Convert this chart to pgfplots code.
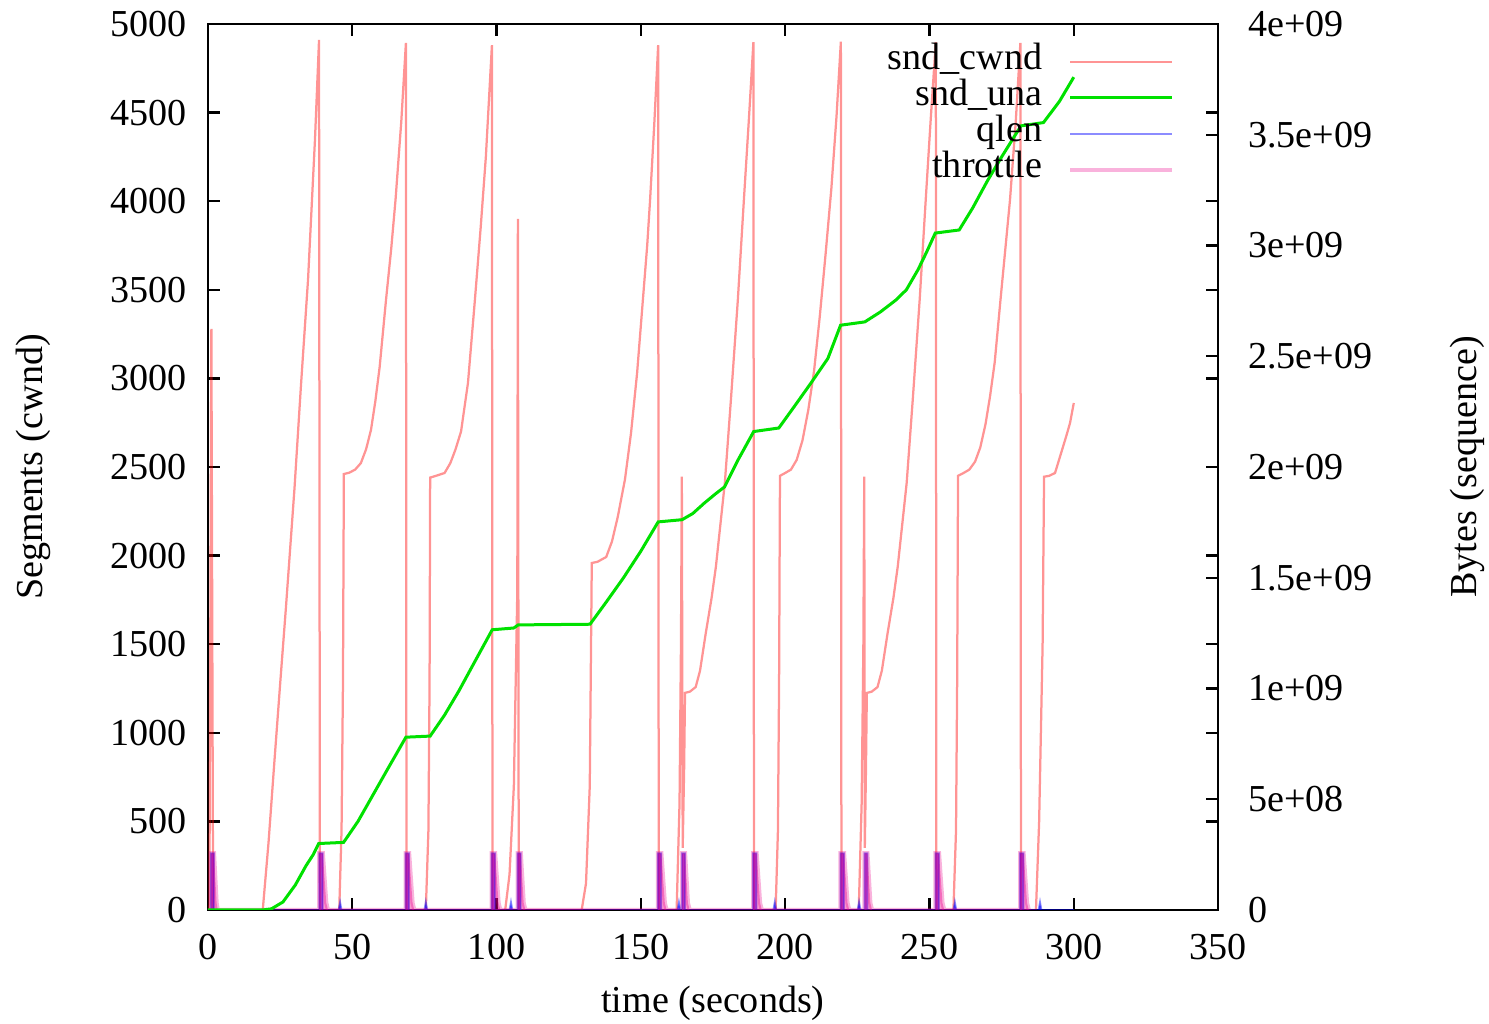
\documentclass[border=0pt]{standalone}
\usepackage{fontspec}
\setmainfont{Liberation Serif}
\usepackage{pgfplots}
\pgfplotsset{compat=1.18}

\definecolor{unagreen}{RGB}{0,225,0}

\pgfplotsset{
  cwnd/.style={red, draw opacity=0.42, line width=0.75pt},
  una/.style={unagreen, line width=1pt},
  qlenst/.style={blue, draw opacity=0.45, line width=0.6pt},
  throttlest/.style={magenta, draw opacity=0.3, line width=1.4pt},
  common/.style={
    scale only axis, width=336.7pt, height=295.3pt,
    xmin=0, xmax=350,
    /pgf/number format/assume math mode=true,
    /pgf/number format/1000 sep={},
    tick align=inside, major tick length=4pt,
    tick style={black, line width=0.8pt},
    axis line style={line width=0.9pt},
  },
}

\begin{document}
\begin{tikzpicture}[font=\fontsize{12.7pt}{14.5pt}\selectfont]
\begin{axis}[common, name=ax,
  ymin=0, ymax=5000,
  xtick={0,50,...,350}, ytick={0,500,...,5000},
  scaled ticks=false,
  yticklabel pos=left,
  xticklabel style={yshift=-4.5pt},
  yticklabel style={xshift=-3.5pt},
  xlabel={time (seconds)},
  ylabel={Segments (cwnd)},
  xlabel style={at={(axis description cs:0.5,-0.105)}, anchor=center},
  ylabel style={at={(axis description cs:-0.173,0.5)}, anchor=center},
]
% snd_cwnd
\addplot[cwnd] coordinates {
 (0,0) (0.5,0) (1.2,3280) (1.8,0) (19,0) (21,380) (23,830) (25,1270) (27,1700)
 (30,2380) (32.2,2950) (34.7,3560) (37.1,4350) (38.5,4910) (38.8,0)
 (45.5,0) (46.3,450) (46.8,1300) (47.1,2460) (49,2468) (51,2485) (53,2522)
 (54.8,2600) (56.5,2709) (58,2870) (59.5,3064) (61.7,3442) (63.5,3730)
 (65,4007) (67,4450) (68.6,4893) (68.8,0)
 (75.5,0) (76.4,450) (76.8,1300) (77.0,2440) (79,2450) (82,2466) (84,2522)
 (85.8,2600) (87.7,2700) (90.1,2974) (92.5,3442) (94.5,3850) (96.3,4250)
 (98.4,4880) (98.6,0)
 (103,0) (104.5,200) (106,700) (107.2,1800) (107.4,3900) (107.7,0)
 (129.5,0) (131,150) (132.3,700) (133,1958) (135,1965) (138,1992) (140,2080)
 (142,2218) (144.5,2430) (146.6,2692) (148.7,3030) (150.7,3442) (152.2,3750)
 (153.2,4007) (154.7,4450) (156,4880) (156.2,0)
 (162.4,0) (163.4,600) (163.9,1500) (164.2,2445) (164.5,350) (165.0,800)
 (165.3,1225) (167,1232) (169,1258) (170.5,1350) (172.5,1563) (174.5,1760)
 (176,1937) (179.1,2410) (181.2,2878) (183.6,3442) (185.7,4007) (187.5,4480)
 (189,4898) (189.2,0)
 (196.7,0) (197.5,450) (197.9,1300) (198.2,2450) (200,2466) (202,2485)
 (204,2540) (206,2650) (208,2820) (210,3040) (212,3350) (214,3700)
 (216,4070) (217.8,4480) (219.3,4900) (219.5,0)
 (225.5,0) (226.5,600) (227.1,1500) (227.4,2445) (227.6,350) (228.0,800)
 (228.3,1225) (230,1232) (232,1258) (233.5,1350) (235.5,1563) (237.5,1760)
 (239,1937) (242.1,2410) (244.2,2878) (246.6,3442) (248.7,4007) (250.5,4480)
 (252.2,4898) (252.4,0)
 (258.3,0) (259.2,450) (259.6,1300) (259.9,2450) (261.8,2466) (263.8,2485)
 (265.8,2530) (267.6,2610) (269.4,2740) (271,2900) (272.6,3090) (274.6,3442)
 (276.4,3750) (277.9,4007) (279.9,4450) (281.5,4893) (281.7,0)
 (286.9,0) (288,500) (289.2,1500) (289.7,2445) (291.5,2450) (293.5,2466)
 (295.6,2578) (297.5,2680) (298.7,2748) (300,2861)
};
% qlen
\addplot[qlenst, fill=blue, fill opacity=0.55] coordinates {
 (0,0) (1.0,0) (1.0,320) (2.1,320) (2.1,0)
 (38.6,0) (38.6,320) (39.8,320) (39.8,0)
 (45.3,0) (45.8,45) (46.3,0)
 (68.5,0) (68.5,320) (69.7,320) (69.7,0)
 (75.0,0) (75.5,45) (76.0,0)
 (98.3,0) (98.3,320) (99.5,320) (99.5,0)
 (104.5,0) (105,45) (105.5,0)
 (107.3,0) (107.3,320) (108.4,320) (108.4,0)
 (155.9,0) (155.9,320) (157.1,320) (157.1,0)
 (162.7,0) (163.2,45) (163.7,0)
 (164.3,0) (164.3,320) (165.3,320) (165.3,0)
 (188.9,0) (188.9,320) (190.1,320) (190.1,0)
 (195.9,0) (196.4,45) (196.9,0)
 (219.2,0) (219.2,320) (220.4,320) (220.4,0)
 (225.1,0) (225.6,45) (226.1,0)
 (227.5,0) (227.5,320) (228.5,320) (228.5,0)
 (252.1,0) (252.1,320) (253.3,320) (253.3,0)
 (258.3,0) (258.8,45) (259.3,0)
 (281.4,0) (281.4,320) (282.6,320) (282.6,0)
 (287.8,0) (288.3,45) (288.8,0) (300,0)
};
% throttle
\addplot[throttlest, fill=magenta, fill opacity=0.4] coordinates {
 (0,0) (1.0,0) (1.0,320) (2.1,320) (3.0,40) (3.4,0)
 (38.6,0) (38.6,320) (39.8,320) (41.0,40) (41.6,0)
 (68.5,0) (68.5,320) (69.7,320) (70.9,40) (71.5,0)
 (98.3,0) (98.3,320) (99.5,320) (100.7,40) (101.3,0)
 (107.3,0) (107.3,320) (108.4,320) (109.4,40) (110,0)
 (155.9,0) (155.9,320) (157.1,320) (158.3,40) (158.9,0)
 (164.3,0) (164.3,320) (165.3,320) (166.3,40) (166.9,0)
 (188.9,0) (188.9,320) (190.1,320) (191.3,40) (191.9,0)
 (219.2,0) (219.2,320) (220.4,320) (221.6,40) (222.2,0)
 (227.5,0) (227.5,320) (228.5,320) (229.5,40) (230.1,0)
 (252.1,0) (252.1,320) (253.3,320) (254.5,40) (255.1,0)
 (281.4,0) (281.4,320) (282.6,320) (283.8,40) (284.4,0)
};
\end{axis}

\begin{axis}[common,
  ymin=0, ymax=4,
  hide x axis,
  axis y line*=right,
  ytick={0,0.5,...,4},
  yticklabels={0,5e+08,1e+09,1.5e+09,2e+09,2.5e+09,3e+09,3.5e+09,4e+09},
  yticklabel style={xshift=6.5pt},
  ylabel={Bytes (sequence)},
  ylabel style={at={(axis description cs:1.2465,0.5)}, anchor=center},
  legend cell align=right,
  legend plot pos=right,
  legend image code/.code={\path (0pt,0pt); \draw[#1] (8pt,0pt) -- (42pt,0pt);},
  legend style={at={(rel axis cs:0.966,0.985)}, anchor=north east,
    draw=none, fill=none,
    nodes={inner sep=0.5pt, text height=8pt, text depth=3pt}},
]
\addlegendimage{cwnd}
\addlegendentry{snd\_cwnd}
% snd_una (1e9 bytes)
\addplot[una] coordinates {
 (0,0) (19,0) (22,0.005) (26,0.036) (30.3,0.113) (34,0.2) (36.5,0.25)
 (38.4,0.30) (47,0.305) (52,0.40) (57,0.515) (62,0.63) (68.6,0.78)
 (77,0.785) (82,0.88) (87,0.99) (92,1.11) (98.5,1.265) (106,1.273)
 (107.5,1.287) (132.4,1.29) (138,1.39) (144,1.50) (150,1.62) (156,1.752)
 (164.3,1.762) (168,1.79) (172,1.837) (176,1.88) (179,1.91) (183.6,2.03)
 (189.1,2.16) (197.8,2.176) (203,2.27) (209,2.38) (214.8,2.49) (219.2,2.64)
 (227.6,2.655) (233,2.70) (238.4,2.754) (242,2.80) (246,2.89) (249,2.97)
 (252,3.056) (260.3,3.07) (265,3.17) (270,3.29) (275,3.40) (281.7,3.54)
 (289.5,3.555) (295,3.65) (300,3.76)
};
\addlegendentry{snd\_una}
\addlegendimage{qlenst}
\addlegendentry{qlen}
\addlegendimage{throttlest}
\addlegendentry{throttle}
\end{axis}

\pgfresetboundingbox
\path[use as bounding box] ([shift={(-69.3pt,-38pt)}]ax.south west)
  rectangle ([shift={(90.3pt,8pt)}]ax.north east);
\end{tikzpicture}
\end{document}
